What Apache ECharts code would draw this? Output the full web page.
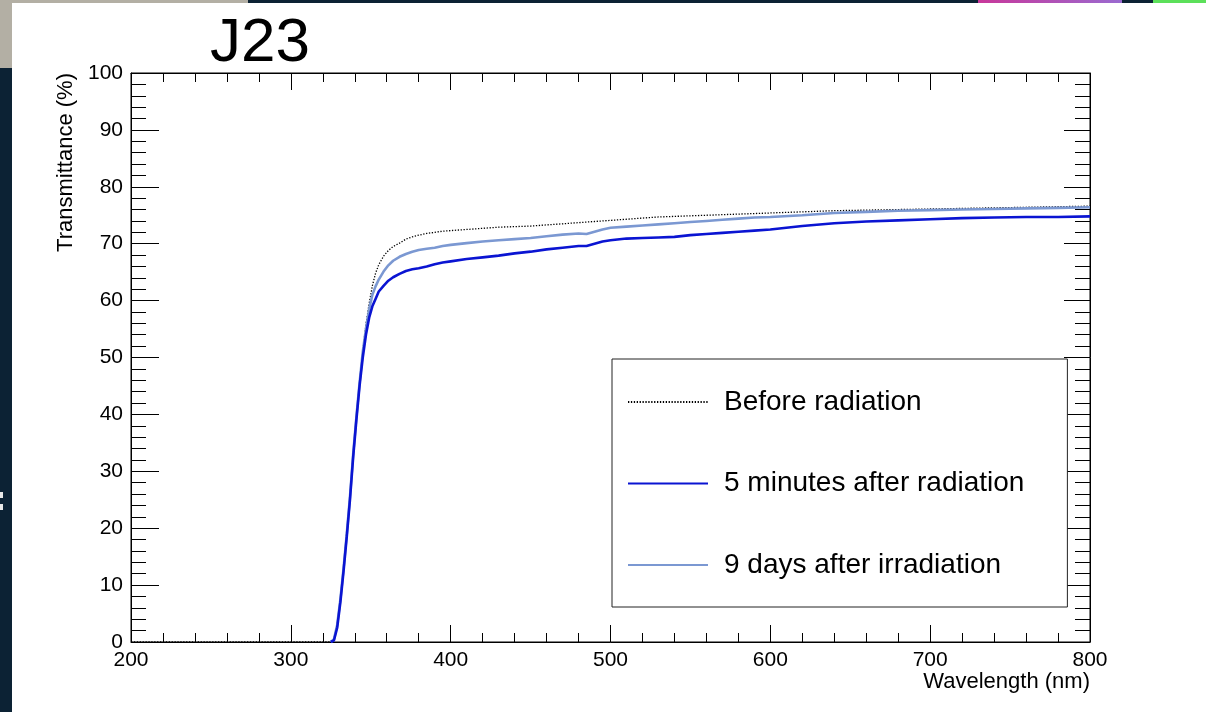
<!DOCTYPE html>
<html>
<head>
<meta charset="utf-8">
<script src="https://cdn.jsdelivr.net/npm/echarts@6/dist/echarts.min.js"></script>
<style>
html,body{margin:0;padding:0;background:#fff;}
#c{width:1206px;height:712px;}
</style>
</head>
<body>
<div id="c"></div>
<script>
// ---- data ----
const titleText = 'J23';
const xName = 'Wavelength (nm)';
const yName = 'Transmittance (%)';
const seriesNames = ['Before radiation', '5 minutes after radiation', '9 days after irradiation'];

const wavelength = [200, 250, 300, 325, 327, 329, 331, 333, 335, 337, 339, 341, 343, 345, 347, 349, 351, 353, 355, 358, 361, 364, 368, 372, 376, 380, 385, 390, 395, 400, 410, 420, 430, 440, 450, 460, 470, 480, 485, 490, 495, 500, 510, 520, 530, 540, 550, 560, 570, 580, 590, 600, 620, 640, 660, 680, 700, 720, 740, 760, 780, 800];

const beforeRadiation = [0, 0, 0, 0, 0.5, 3, 7.5, 13, 19, 25.5, 33, 39.5, 45.5, 51, 55.8, 59.5, 62.6, 64.8, 66.3, 67.8, 68.8, 69.5, 70.1, 70.8, 71.2, 71.5, 71.8, 72.0, 72.2, 72.3, 72.5, 72.7, 72.9, 73.0, 73.1, 73.3, 73.5, 73.7, 73.8, 73.9, 74.0, 74.1, 74.3, 74.5, 74.7, 74.8, 74.9, 75.0, 75.1, 75.2, 75.3, 75.4, 75.6, 75.8, 75.9, 76.0, 76.1, 76.2, 76.3, 76.4, 76.5, 76.6];

const after5Minutes = [null, null, null, 0, 0.3, 2.5, 7, 12.5, 18.5, 25, 32.5, 39, 45, 50, 54, 57, 59, 60.3, 61.6, 62.6, 63.5, 64.1, 64.7, 65.2, 65.5, 65.7, 66.0, 66.4, 66.7, 66.9, 67.3, 67.6, 67.9, 68.3, 68.6, 69.0, 69.3, 69.6, 69.6, 70.0, 70.4, 70.6, 70.9, 71.0, 71.1, 71.2, 71.5, 71.7, 71.9, 72.1, 72.3, 72.5, 73.1, 73.6, 73.9, 74.1, 74.3, 74.5, 74.6, 74.7, 74.7, 74.8];

const after9Days = [null, null, null, 0, 0.5, 3, 7.5, 13, 19, 25.5, 33, 39.5, 45.5, 51, 55, 58.5, 61, 62.5, 63.7, 65.1, 66.2, 67, 67.7, 68.2, 68.6, 68.9, 69.1, 69.3, 69.6, 69.8, 70.1, 70.4, 70.6, 70.8, 71.0, 71.3, 71.6, 71.8, 71.7, 72.1, 72.5, 72.8, 73.0, 73.2, 73.4, 73.6, 73.8, 74.0, 74.2, 74.4, 74.6, 74.7, 75.0, 75.4, 75.6, 75.8, 75.9, 76.0, 76.1, 76.2, 76.3, 76.4];

function pairs(ys){ return wavelength.map((x,i)=>[x, ys[i]]); }

const FONT = '"Liberation Sans", Arial, Helvetica, sans-serif';
const chart = echarts.init(document.getElementById('c'), null, {renderer:'canvas'});

const axisCommonX = {
  type:'value', min:200, max:800, interval:100,
  axisLine:{show:true, onZero:false, lineStyle:{color:'#000', width:1}},
  splitLine:{show:false},
  minorTick:{show:true, splitNumber:5, length:9, lineStyle:{color:'#000', width:1}},
  axisTick:{show:true, inside:true, length:17, lineStyle:{color:'#000', width:1}}
};
const axisCommonY = {
  type:'value', min:0, max:100, interval:10,
  axisLine:{show:true, onZero:false, lineStyle:{color:'#000', width:1}},
  splitLine:{show:false},
  minorTick:{show:true, splitNumber:5, length:15, lineStyle:{color:'#000', width:1}},
  axisTick:{show:true, inside:true, length:28, lineStyle:{color:'#000', width:1}}
};

const option = {
  animation:false,
  backgroundColor:'#fff',
  textStyle:{fontFamily:FONT},
  graphic:[
    {type:'rect', silent:true, z:-10, shape:{x:0,y:0,width:250,height:70}, style:{fill:'#b3afa4'}},
    {type:'rect', silent:true, z:-10, shape:{x:248,y:0,width:958,height:3}, style:{fill:'#0c2234'}},
    {type:'rect', silent:true, z:-10, shape:{x:0,y:68,width:12,height:644}, style:{fill:'#0c2234'}},
    {type:'rect', silent:true, z:-10, shape:{x:978,y:0,width:144,height:3}, style:{fill:new echarts.graphic.LinearGradient(0,0,1,0,[{offset:0,color:'#c8379a'},{offset:1,color:'#9a6ad0'}])}},
    {type:'rect', silent:true, z:-10, shape:{x:1153,y:0,width:53,height:3}, style:{fill:'#5ce05a'}},
    {type:'rect', silent:true, z:-9, shape:{x:12,y:3,width:1194,height:709}, style:{fill:'#fff'}},
    {type:'rect', silent:true, z:-8, shape:{x:0,y:492,width:3,height:6}, style:{fill:'#e8e8e8'}},
    {type:'rect', silent:true, z:-8, shape:{x:0,y:504,width:3,height:6}, style:{fill:'#e8e8e8'}}
  ],
  title:{
    text:titleText, left:210, top:13, padding:0,
    textStyle:{fontSize:62, fontWeight:'normal', color:'#000', fontFamily:FONT}
  },
  legend:{
    orient:'vertical', left:612, top:359,
    padding:[29,43,28,15],
    itemGap:53.5, itemWidth:80, itemHeight:14,
    backgroundColor:'#fff', borderColor:'#222', borderWidth:1, borderRadius:0,
    itemStyle:{opacity:0},
    data:seriesNames,
    textStyle:{fontSize:28, color:'#000', fontFamily:FONT, padding:[0,0,0,11]}
  },
  grid:{left:131, right:116, top:73, bottom:70, show:true, borderColor:'#000', borderWidth:1, backgroundColor:'transparent'},
  xAxis:[
    Object.assign({}, axisCommonX, {
      position:'bottom',
      axisLabel:{show:true, fontSize:21, color:'#000', margin:8, fontFamily:FONT},
      name:xName, nameLocation:'end', nameGap:0,
      nameTextStyle:{fontSize:22, color:'#000', align:'right', verticalAlign:'top', padding:[29,0,0,0], fontFamily:FONT}
    }),
    Object.assign({}, axisCommonX, {position:'top', axisLabel:{show:false}})
  ],
  yAxis:[
    Object.assign({}, axisCommonY, {
      position:'left',
      axisLabel:{show:true, fontSize:21, color:'#000', margin:8, fontFamily:FONT},
      name:yName, nameLocation:'end', nameGap:0, nameRotate:90,
      nameTextStyle:{fontSize:22, color:'#000', align:'right', verticalAlign:'bottom', padding:[0,0,54,0], fontFamily:FONT}
    }),
    Object.assign({}, axisCommonY, {position:'right', axisLabel:{show:false}, axisTick:{show:true, inside:true, length:26, lineStyle:{color:'#000', width:1}}})
  ],
  series:[
    {name:seriesNames[0], type:'line', xAxisIndex:0, yAxisIndex:0, data:pairs(beforeRadiation), showSymbol:false, symbol:'none', z:2,
      lineStyle:{color:'#000', width:1.3, type:[1.3,1.6]}, itemStyle:{color:'#000'}},
    {name:seriesNames[2], type:'line', xAxisIndex:0, yAxisIndex:0, data:pairs(after9Days), showSymbol:false, symbol:'none', z:3,
      lineStyle:{color:'#7b98d2', width:2.6}, itemStyle:{color:'#7b98d2'}},
    {name:seriesNames[1], type:'line', xAxisIndex:0, yAxisIndex:0, data:pairs(after5Minutes), showSymbol:false, symbol:'none', z:4,
      lineStyle:{color:'#0a14d2', width:2.6}, itemStyle:{color:'#0a14d2'}}
  ]
};
chart.setOption(option);
</script>
</body>
</html>
